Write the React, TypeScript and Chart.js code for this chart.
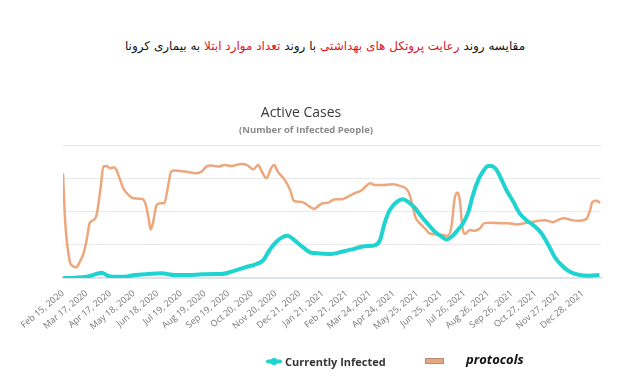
import React, { useEffect, useRef } from "react";
import { Chart, registerables } from "chart.js";

Chart.register(...registerables);

// x positions are day offsets from Feb 15, 2020
const tickDays = [0, 31, 62, 93, 124, 155, 186, 217, 248, 279, 310, 341, 372, 403, 434, 465, 496, 527, 558, 589, 620, 651, 682];
const tickLabels = [
  "Feb 15, 2020", "Mar 17, 2020", "Apr 17, 2020", "May 18, 2020", "Jun 18, 2020", "Jul 19, 2020",
  "Aug 19, 2020", "Sep 19, 2020", "Oct 20, 2020", "Nov 20, 2020", "Dec 21, 2020", "Jan 21, 2021",
  "Feb 21, 2021", "Mar 24, 2021", "Apr 24, 2021", "May 25, 2021", "Jun 25, 2021", "Jul 26, 2021",
  "Aug 26, 2021", "Sep 26, 2021", "Oct 27, 2021", "Nov 27, 2021", "Dec 28, 2021",
];

const infectedDays = [0, 16, 31, 40, 46, 51, 57, 66, 81, 94, 112, 129, 147, 164, 182, 199, 208, 221, 239, 254, 263, 271, 280, 289, 295, 302, 313, 326, 337, 352, 366, 379, 392, 400, 409, 416, 422, 429, 438, 446, 453, 462, 470, 479, 488, 497, 503, 510, 518, 525, 532, 538, 545, 551, 558, 562, 569, 574, 582, 591, 599, 608, 617, 628, 637, 645, 654, 665, 678, 691, 704];
const infectedValues = [0, 1, 4, 9, 14, 16, 9, 4, 4, 9, 12, 14, 9, 9, 11, 12, 12, 19, 32, 42, 54, 84, 109, 124, 127, 117, 96, 76, 74, 72, 79, 86, 94, 96, 98, 114, 165, 205, 229, 237, 229, 210, 186, 162, 139, 124, 116, 124, 144, 165, 199, 250, 295, 320, 337, 337, 325, 303, 264, 229, 195, 174, 159, 134, 99, 64, 39, 19, 9, 7, 9];

const protocolDays = [0, 3, 9, 11, 17, 21, 27, 31, 35, 40, 44, 49, 53, 57, 62, 67, 70, 75, 79, 86, 92, 104, 108, 112, 115, 118, 123, 129, 133, 137, 142, 147, 160, 175, 182, 188, 195, 199, 204, 212, 221, 234, 241, 250, 256, 261, 267, 273, 277, 282, 291, 298, 303, 311, 317, 324, 330, 335, 341, 348, 354, 359, 366, 374, 383, 392, 398, 403, 409, 422, 433, 442, 451, 455, 459, 463, 468, 475, 481, 490, 499, 505, 510, 514, 518, 521, 524, 527, 534, 540, 547, 553, 562, 575, 584, 595, 608, 621, 632, 643, 652, 658, 667, 678, 687, 691, 695, 700, 705];
const protocolValues = [315, 165, 49, 39, 32, 44, 74, 114, 165, 174, 189, 265, 335, 337, 330, 333, 325, 295, 270, 250, 240, 238, 225, 184, 146, 165, 220, 225, 225, 265, 320, 323, 320, 315, 320, 335, 338, 337, 335, 340, 337, 343, 340, 327, 340, 320, 300, 330, 340, 320, 295, 265, 232, 229, 225, 214, 208, 217, 225, 226, 235, 237, 237, 245, 255, 264, 277, 285, 280, 280, 282, 277, 267, 250, 214, 180, 165, 149, 134, 131, 129, 127, 159, 240, 257, 229, 154, 132, 144, 142, 149, 165, 166, 165, 165, 161, 166, 171, 174, 168, 177, 180, 174, 172, 178, 199, 229, 232, 226];

const CYAN = "#1fd3d0";
const ORANGE = "#eea77c";

const textPlugin = {
  id: "textPlugin",
  afterDraw(chart: any) {
    const ctx = chart.ctx;
    ctx.save();
    ctx.textBaseline = "alphabetic";
    ctx.textAlign = "center";
    ctx.fillStyle = "#3a3a3a";
    ctx.font = "14px 'Open Sans'";
    ctx.fillText("Active Cases", 301, 117);
    ctx.fillStyle = "#8a8a8a";
    ctx.font = "bold 9.5px 'Open Sans'";
    ctx.fillText("(Number of Infected People)", 306, 133);

    // legend
    ctx.strokeStyle = CYAN;
    ctx.lineWidth = 4;
    ctx.lineCap = "round";
    ctx.beginPath();
    ctx.moveTo(268, 361.5);
    ctx.lineTo(280, 361.5);
    ctx.stroke();
    ctx.fillStyle = CYAN;
    ctx.beginPath();
    ctx.arc(274, 361.5, 3.5, 0, Math.PI * 2);
    ctx.fill();
    ctx.textAlign = "left";
    ctx.fillStyle = "#333";
    ctx.font = "bold 11px 'Open Sans'";
    ctx.fillText("Currently Infected", 285, 365.5);

    ctx.fillStyle = "#e9a582";
    ctx.fillRect(425, 358, 19, 6);
    ctx.strokeStyle = "#b98a72";
    ctx.lineWidth = 1;
    ctx.strokeRect(425.5, 358.5, 18, 5);
    ctx.fillStyle = "#111";
    ctx.font = "italic bold 13px 'Open Sans'";
    ctx.fillText("protocols", 466, 364);
    ctx.restore();
  },
};

export default function App() {
  const ref = useRef<HTMLCanvasElement>(null);
  useEffect(() => {
    const chart = new Chart(ref.current!, {
      type: "line",
      data: {
        datasets: [
          {
            label: "Currently Infected",
            data: infectedDays.map((d, i) => ({ x: d, y: infectedValues[i] })),
            borderColor: CYAN,
            borderWidth: 4,
            pointRadius: 0,
            tension: 0.4,
            cubicInterpolationMode: "monotone",
            fill: false,
          },
          {
            label: "protocols",
            data: protocolDays.map((d, i) => ({ x: d, y: protocolValues[i] })),
            borderColor: ORANGE,
            borderWidth: 2.5,
            pointRadius: 0,
            tension: 0.4,
            cubicInterpolationMode: "monotone",
            fill: false,
          },
        ],
      },
      options: {
        responsive: false,
        animation: false,
        events: [],
        layout: { padding: { top: 145, left: 63, right: 39, bottom: 0 } },
        plugins: { legend: { display: false }, title: { display: false }, tooltip: { enabled: false } },
        scales: {
          x: {
            type: "linear",
            min: 0,
            max: 706,
            grid: { display: false },
            border: { display: true, color: "#dde3ea", width: 2 },
            afterBuildTicks: (scale: any) => {
              scale.ticks = tickDays.map((v) => ({ value: v }));
            },
            afterFit: (scale: any) => {
              scale.height = 107;
            },
            ticks: {
              autoSkip: false,
              maxRotation: 40,
              minRotation: 40,
              padding: 2,
              color: "#777",
              font: { family: "'Open Sans'", size: 9 },
              callback: (v: any) => {
                const i = tickDays.indexOf(Number(v));
                return i >= 0 ? tickLabels[i] : "";
              },
            },
          },
          y: {
            min: 0,
            max: 400,
            ticks: { display: false, stepSize: 100 },
            border: { display: false },
            grid: { color: "#e9e9ec", lineWidth: 1, drawTicks: false },
            afterFit: (scale: any) => {
              scale.width = 0;
            },
          },
        },
      },
      plugins: [textPlugin],
    } as any);
    return () => chart.destroy();
  }, []);

  return (
    <div style={{ position: "absolute", left: 0, top: 0, width: 640, height: 385, background: "#fff" }}>
      <div
        dir="rtl"
        style={{
          position: "absolute",
          top: 37,
          left: 0,
          width: 650,
          textAlign: "center",
          fontFamily: "'DejaVu Sans', sans-serif",
          fontSize: 12,
          color: "#111",
          whiteSpace: "nowrap",
          lineHeight: "18px",
        }}
      >
        مقایسه روند <span style={{ color: "#e0151b" }}>رعایت پروتکل های بهداشتی</span> با روند{" "}
        <span style={{ color: "#e0151b" }}>تعداد موارد ابتلا</span> به بیماری کرونا
      </div>
      <canvas ref={ref} width={640} height={385} style={{ position: "absolute", left: 0, top: 0 }} />
    </div>
  );
}
